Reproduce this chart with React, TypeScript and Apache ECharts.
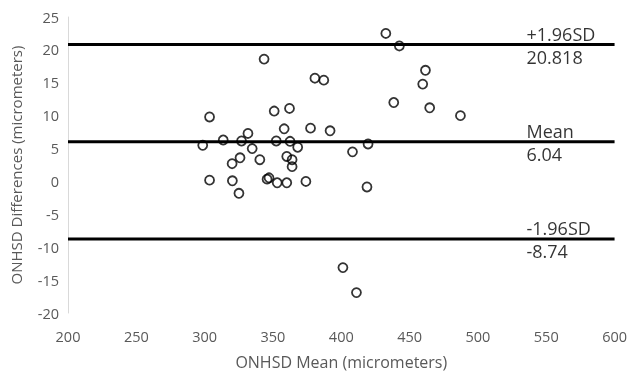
import React, { useEffect, useRef } from "react";
import * as echarts from "echarts";

const xMeans = [
  432.6, 442.5, 461.6, 459.6, 380.7, 387.2, 438.4, 464.7, 487.2, 362.1,
  358.2, 377.5, 391.8, 362.5, 368.1, 408.2, 419.6, 360.1, 364.0, 364.0,
  360.1, 374.1, 418.8, 401.2, 411.1, 343.5, 303.6, 350.9, 298.6, 313.6,
  327.0, 331.7, 334.8, 352.4, 325.9, 320.1, 340.4, 303.6, 320.3, 325.1,
  345.7, 347.1, 353.1,
];
const yDiffs = [
  22.5, 20.6, 16.9, 14.8, 15.7, 15.4, 12.0, 11.2, 10.0, 11.1,
  8.0, 8.1, 7.7, 6.1, 5.2, 4.5, 5.7, 3.8, 3.3, 2.25,
  -0.2, 0.0, -0.84, -13.1, -16.9, 18.6, 9.8, 10.7, 5.5, 6.3,
  6.15, 7.3, 5.0, 6.15, 3.6, 2.7, 3.3, 0.2, 0.1, -1.8,
  0.35, 0.55, -0.2,
];
const limitValues = [20.818, 6.04, -8.74];
const limitNames = ["+1.96SD", "Mean", "-1.96SD"];
const limitTexts = ["20.818", "6.04", "-8.74"];
const xRange = [200, 600];
const labelX = 537;

export default function App() {
  const ref = useRef<HTMLDivElement>(null);
  useEffect(() => {
    if (!ref.current) return;
    const chart = echarts.init(ref.current, null, { renderer: "svg" });
    const font = "'Open Sans', 'Liberation Sans', sans-serif";
    const lineSeries = limitValues.map((v) => ({
      type: "line",
      data: [
        [xRange[0], v],
        [xRange[1], v],
      ],
      symbol: "none",
      lineStyle: { color: "#000", width: 3 },
      silent: true,
      z: 1,
    }));
    const mkLabel = (texts: string[], pos: string, dist: number) =>
      limitValues.map((v, i) => ({
        type: "scatter",
        data: [[labelX, v]],
        symbolSize: 0,
        silent: true,
        label: {
          show: true,
          position: pos,
          align: "left",
          distance: dist,
          offset: [-2, 0],
          formatter: () => texts[i],
          color: "#000",
          fontSize: 18,
          fontFamily: font,
        },
      }));
    chart.setOption({
      animation: false,
      grid: { left: 63, right: 15, top: 17, bottom: 64 },
      xAxis: {
        type: "value",
        min: 200,
        max: 600,
        interval: 50,
        name: "ONHSD Mean (micrometers)",
        nameLocation: "middle",
        nameGap: 41,
        nameTextStyle: { color: "#595959", fontSize: 16, fontFamily: font },
        axisLine: { show: false },
        axisTick: { show: false },
        splitLine: { show: false },
        axisLabel: { color: "#595959", fontSize: 14.5, fontFamily: font, margin: 16 },
      },
      yAxis: {
        type: "value",
        min: -20,
        max: 25,
        interval: 5,
        name: "ONHSD Differences (micrometers)",
        nameLocation: "middle",
        nameGap: 45,
        nameTextStyle: { color: "#595959", fontSize: 15, fontFamily: font },
        axisLine: { show: true, lineStyle: { color: "#d9d9d9", width: 1 } },
        axisTick: { show: false },
        splitLine: { show: false },
        axisLabel: { color: "#595959", fontSize: 14.5, fontFamily: font, margin: 9 },
      },
      series: [
        ...lineSeries,
        {
          type: "scatter",
          data: xMeans.map((x, i) => [x, yDiffs[i]]),
          symbol: "circle",
          symbolSize: 9,
          itemStyle: { color: "rgba(255,255,255,0)", borderColor: "#000", borderWidth: 1.8 },
          z: 3,
        },
        ...mkLabel(limitNames, "top", 2),
        ...mkLabel(limitTexts, "bottom", 3),
      ],
    });
    return () => chart.dispose();
  }, []);
  return (
    <div
      ref={ref}
      style={{ position: "fixed", left: 0, top: 0, width: 630, height: 377, overflow: "visible" }}
    />
  );
}
